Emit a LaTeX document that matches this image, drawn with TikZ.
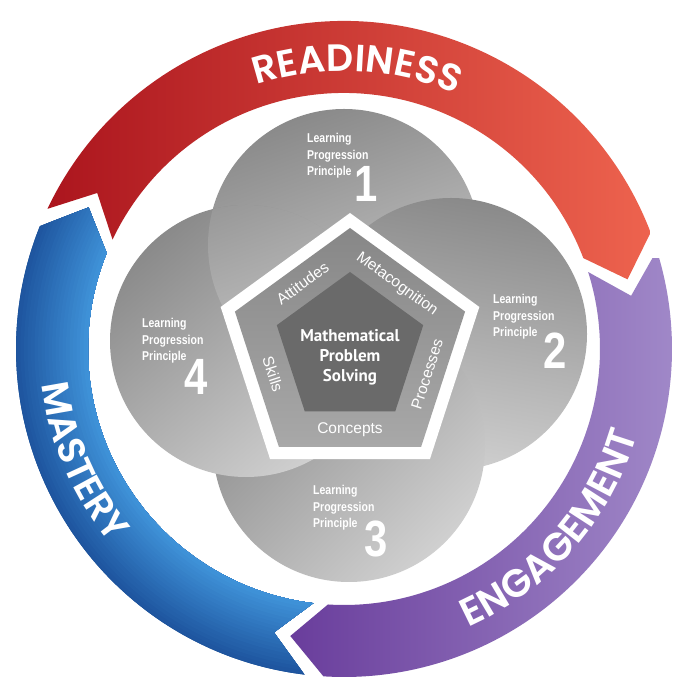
\documentclass[tikz,border=0pt]{standalone}
\usepackage{fontspec}
\setmainfont{Liberation Sans}
\newfontfamily\arcfont{Poppins SemiBold}
\newfontfamily\condfont{Liberation Sans}[FakeStretch=0.82]
\newfontfamily\hubfont{PT Sans}
\usetikzlibrary{decorations.text,shapes.geometric}

\definecolor{redDark}{HTML}{A8111B}
\definecolor{redMid}{HTML}{E8212C}
\definecolor{redLight}{HTML}{F06650}
\definecolor{purpleA}{HTML}{673A9A}
\definecolor{purpleB}{HTML}{6C409E}
\definecolor{purpleC}{HTML}{A088C8}
\definecolor{blueDark}{HTML}{1B509A}
\definecolor{blueLight}{HTML}{4297DD}
\definecolor{discDark}{HTML}{8A8A8A}
\definecolor{discLight}{HTML}{D0D0D0}
\definecolor{bandTop}{HTML}{878787}
\definecolor{bandBottom}{HTML}{A8A8A8}
\definecolor{coreGray}{HTML}{6A6A6A}

% ring segment with a notched tail (angle #1) and a pointed head (angle #2)
\newcommand\ringsegment[2]{(#1:328) arc[start angle=#1, end angle=#2, radius=328]
  -- ({#2-7}:292) -- (#2:256) arc[start angle=#2, end angle=#1, radius=256]
  -- ({#1-7}:292) -- cycle}

\tikzset{
  arcword/.style 2 args={decorate, decoration={text along path, text align=center,
      text color=white, text={|\arcfont\fontsize{#1}{#1}\selectfont|#2}}},
  lpplabel/.style={anchor=north west, inner sep=0pt, align=left, text=white,
      font=\condfont\bfseries\fontsize{12.8}{16.5}\selectfont},
  lppdigit/.style={inner sep=0pt, text=white,
      font=\condfont\bfseries\fontsize{51}{51}\selectfont},
  facet/.style={inner sep=0pt, text=white, font=\fontsize{15.5}{16}\selectfont},
  disc/.style={top color=discDark, bottom color=discLight, shading angle=#1},
}

\begin{document}
\begin{tikzpicture}[x=1pt,y=1pt]
\useasboundingbox (0,0) rectangle (674,677);
\fill[white] (0,0) rectangle (674,677);

% ---------- outer cycle ----------
\begin{scope}[shift={(344,328)}]
  % readiness
  \begin{scope}
    \clip \ringsegment{154.7}{20.8};
    \shade[left color=redDark, middle color=redMid, right color=redLight]
      (-330,-80) rectangle (330,340);
  \end{scope}
  % engagement
  \begin{scope}
    \clip \ringsegment{17.5}{-93.6};
    \shade[left color=purpleA, middle color=purpleB, right color=purpleC]
      (-70,-340) rectangle (330,90);
  \end{scope}
  % mastery
  \begin{scope}
    \clip \ringsegment{-96.9}{-202};
    \foreach \i [evaluate=\i as \rad using 334-3.5*\i,
                 evaluate=\i as \pc using int(100-4.3*\i)] in {0,...,23}
      \fill[blueDark!\pc!blueLight] (0,0) circle[radius=\rad];
  \end{scope}

  \path[arcword={38}{READINESS}] (147.3:278) arc[start angle=147.3, end angle=27.3, radius=278];
  \path[arcword={38}{MASTERY}] (163.2:304) arc[start angle=163.2, end angle=243.2, radius=304];
  \path[arcword={39}{ENGAGEMENT}] (-81:305) arc[start angle=-81, end angle=-1, radius=305];
\end{scope}

% ---------- four principles ----------
\coordinate (c1) at (344,432);
\coordinate (c2) at (451,343);
\coordinate (c3) at (349,231);
\coordinate (c4) at (246,336);
\shade[disc=20]  (c1) circle[radius=136];
\shade[disc=-10] (c2) circle[radius=136];
\shade[disc=45]  (c3) circle[radius=136];
\shade[disc=40]  (c4) circle[radius=136];
\begin{scope}
  \clip (c4) circle[radius=136];
  \shade[disc=20] (c1) circle[radius=136];
\end{scope}

% ---------- central pentagon ----------
\coordinate (P) at (350,328);
\node[regular polygon, regular polygon sides=5, minimum size=272pt, inner sep=0pt,
      fill=white] (pentRim) at (P) {};
\node[regular polygon, regular polygon sides=5, minimum size=242pt, inner sep=0pt,
      top color=bandTop, bottom color=bandBottom] (pentBand) at (P) {};
\node[regular polygon, regular polygon sides=5, minimum size=154pt, inner sep=0pt,
      fill=coreGray] (pentCore) at (P) {};

\node[text=white, align=center, inner sep=0pt,
      font=\hubfont\bfseries\fontsize{17}{20}\selectfont] (hub) at (350,320)
      {Mathematical\\Problem\\Solving};

\begin{scope}[shift={(P)}]
  \node[facet, rotate=36]  (attitudes) at (126:81) {Attitudes};
  \node[facet, rotate=-36] (metacog)   at (54:80)  {Metacognition};
  \node[facet, rotate=72]  (processes) at (-18:81) {Processes};
  \node[facet, rotate=-72] (skills)    at (198:81) {Skills};
  \node[facet]             (concepts)  at (270:81) {Concepts};
\end{scope}

% ---------- principle labels ----------
\node[lpplabel] (lp1) at (307,543.5) {Learning\\Progression\\Principle};
\node[lpplabel] (lp2) at (493,382.5) {Learning\\Progression\\Principle};
\node[lpplabel] (lp3) at (313,191.5) {Learning\\Progression\\Principle};
\node[lpplabel] (lp4) at (142,358.5) {Learning\\Progression\\Principle};
\node[lppdigit] (n1) at (366,493.5) {1};
\node[lppdigit] (n2) at (555,326.5) {2};
\node[lppdigit] (n3) at (376.5,138) {3};
\node[lppdigit] (n4) at (196.5,300.5) {4};
\end{tikzpicture}
\end{document}
